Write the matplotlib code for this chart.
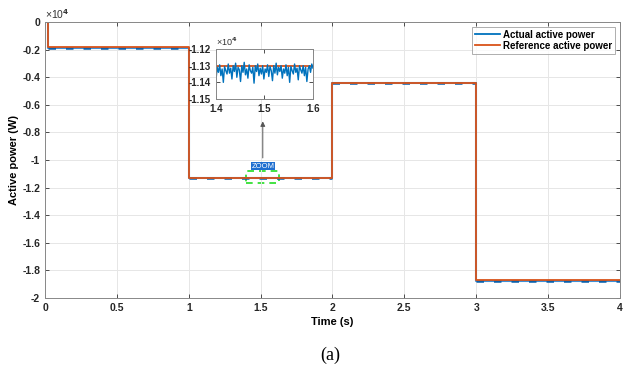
import numpy as np
import matplotlib
matplotlib.use("Agg")
import matplotlib.pyplot as plt
from matplotlib.patches import Rectangle
from matplotlib.ticker import FuncFormatter

# step instants (s) and power levels (W)
t_steps = [0.0, 0.02, 1.0, 2.0, 3.0, 4.0]
p_ref = [0.0, -1800.0, -11300.0, -4400.0, -18700.0]
p_act = [0.0, -1880.0, -11335.0, -4430.0, -18790.0]

# zoomed window 1.4 - 1.6 s, actual power ripple (W)
zoom_t0, zoom_t1 = 1.4, 1.6
zoom_act = [-11385, -11310, -11340, -11295, -11360, -11320, -11400, -11305, -11330, -11350,
            -11290, -11345, -11315, -11380, -11300, -11335, -11285, -11370, -11310, -11325,
            -11395, -11300, -11340, -11280, -11355, -11320, -11375, -11295, -11330, -11345,
            -11310, -11405, -11300, -11335, -11290, -11360, -11315, -11350, -11300, -11380,
            -11320, -11340, -11295, -11365, -11305, -11330, -11390, -11300, -11345, -11285,
            -11355, -11310, -11335, -11300, -11375, -11320, -11345, -11295, -11360, -11310,
            -11400, -11305, -11330, -11350, -11290, -11340, -11315, -11385, -11300, -11325,
            -11345, -11300, -11360, -11310, -11395, -11320, -11300, -11340, -11290, -11315]

BLUE = "#0072BD"
ORANGE = "#D95319"
SCALE = 1e4

plt.rcParams["font.family"] = ["Liberation Sans", "DejaVu Sans"]
plt.rcParams["font.weight"] = "bold"


def fmt(v, _):
    v = round(v, 4)
    if abs(v) < 1e-9:
        return "0"
    return "%g" % v


def style_axes(ax, size):
    ax.tick_params(direction="in", labelsize=size, length=3, width=0.6,
                   top=True, right=True, colors="#333333", labelcolor="#262626")
    for s in ax.spines.values():
        s.set_color("#888888")
        s.set_linewidth(0.7)
    ax.xaxis.set_major_formatter(FuncFormatter(fmt))
    ax.yaxis.set_major_formatter(FuncFormatter(fmt))
    for lab in ax.get_xticklabels() + ax.get_yticklabels():
        lab.set_fontweight("bold")


fig = plt.figure(figsize=(6.26, 3.76), dpi=100)
ax = fig.add_axes([0.0719, 0.2074, 0.9185, 0.7341])

act = np.array(p_act + [p_act[-1]]) / SCALE
ref = np.array(p_ref + [p_ref[-1]]) / SCALE
ax.step(t_steps, act, where="post", color="#3d8fd6", lw=1.5, label="Actual active power")
# ripple look on the flat parts of the actual power
ax.hlines(act[1:-1], t_steps[1:-1], t_steps[2:], color="#0a5ea8", lw=1.8,
          linestyles=[(0, (3, 4))])
ax.step(t_steps, ref, where="post", color=ORANGE, lw=1.3, label="Reference active power")

ax.set_xlim(0, 4)
ax.set_ylim(-2, 0)
ax.set_xticks(np.arange(0, 4.01, 0.5))
ax.set_yticks(np.arange(-2, 0.01, 0.2))
ax.grid(True, color="#e6e6e6", lw=0.7)
style_axes(ax, 7.5)
ax.set_xlabel("Time (s)", fontsize=8, fontweight="bold", labelpad=3)
ax.set_ylabel("Active power (W)", fontsize=8, fontweight="bold", labelpad=2)
ax.text(0.0, 1.005, "\u00d710$^{4}$", transform=ax.transAxes, fontsize=7.5,
        fontweight="normal", ha="left", va="bottom", color="#333333")

h, l = ax.get_legend_handles_labels()
leg = ax.legend([h[0], h[1]], [l[0], l[1]], loc="upper right", fontsize=7, frameon=True,
                fancybox=False, edgecolor="#999999", borderpad=0.3, handlelength=2.6,
                handletextpad=0.3, borderaxespad=0.5, labelspacing=0.1)
leg.get_frame().set_linewidth(0.7)
for txt in leg.get_texts():
    txt.set_fontweight("bold")
for ln in leg.get_lines():
    ln.set_linewidth(1.3)
leg.get_lines()[0].set_color(BLUE)

# zoom marker on main axes
ax.add_patch(Rectangle((1.40, -1.17), 0.23, 0.09, fill=False, ec="#22dd22",
                       lw=1.2, ls=(0, (4, 3))))
ax.text(1.515, -1.045, "ZOOM", fontsize=5.5, color="white", ha="center", va="center",
        fontweight="normal",
        bbox=dict(boxstyle="square,pad=0.1", fc="#1f6fd0", ec="none"))
ax.annotate("", xy=(1.515, -0.70), xytext=(1.515, -1.005),
            arrowprops=dict(arrowstyle="-|>", color="#555555", lw=0.7,
                            mutation_scale=7))

# inset
ins = fig.add_axes([0.345, 0.7367, 0.155, 0.133])
zt = np.linspace(zoom_t0, zoom_t1, len(zoom_act))
ins.axhline(-11300 / SCALE, color=ORANGE, lw=1.3)
ins.plot(zt, np.array(zoom_act) / SCALE, color=BLUE, lw=1.0)
ins.set_xlim(1.4, 1.6)
ins.set_ylim(-1.15, -1.12)
ins.set_xticks([1.4, 1.5, 1.6])
ins.set_yticks([-1.15, -1.14, -1.13, -1.12])
style_axes(ins, 7)
ins.text(0.0, 1.01, "\u00d710$^{4}$", transform=ins.transAxes, fontsize=6.5,
         fontweight="normal", ha="left", va="bottom", color="#333333")

fig.text(0.527, 0.056, "(a)", fontsize=13, family="Liberation Serif",
         fontweight="normal", ha="center", va="center")

fig.savefig("out.png", dpi=100)
